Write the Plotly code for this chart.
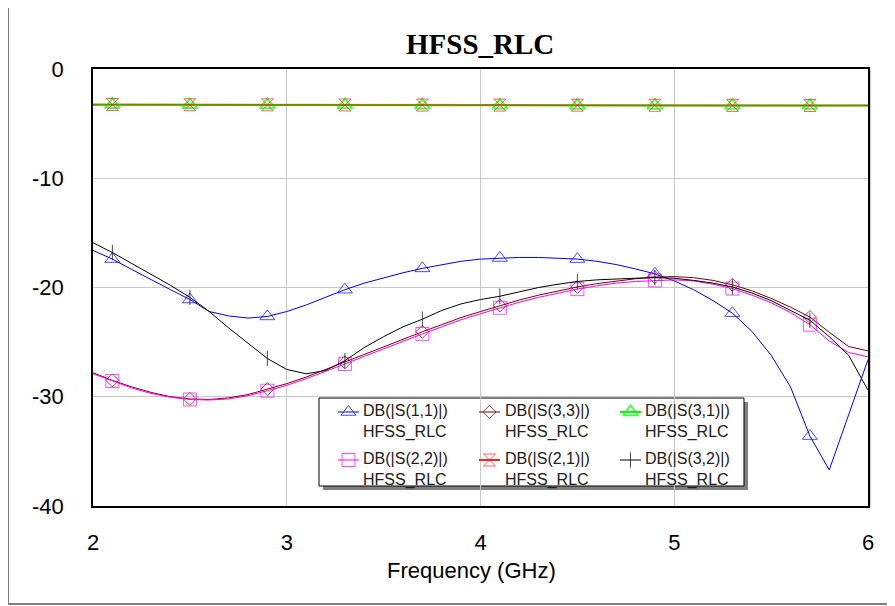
import plotly.graph_objects as go

FREQ = [2.0, 2.1, 2.2, 2.3, 2.4, 2.5, 2.6, 2.7, 2.8, 2.9,
        3.0, 3.1, 3.2, 3.3, 3.4, 3.5, 3.6, 3.7, 3.8, 3.9,
        4.0, 4.1, 4.2, 4.3, 4.4, 4.5, 4.6, 4.7, 4.8, 4.9,
        5.0, 5.1, 5.2, 5.3, 5.4, 5.5, 5.6, 5.7, 5.8, 5.9, 6.0]

S11 = [-16.6, -17.4, -18.35, -19.3, -20.2, -21.1, -22.2, -22.6, -22.8, -22.65,
       -22.2, -21.6, -20.9, -20.2, -19.6, -19.1, -18.65, -18.25, -17.9, -17.6,
       -17.4, -17.3, -17.25, -17.25, -17.3, -17.4, -17.6, -17.9, -18.3, -18.75,
       -19.4, -20.2, -21.2, -22.35, -24.0, -26.2, -29.1, -33.6, -36.7, -31.6, -26.6]

S33 = [-27.8, -28.5, -29.1, -29.6, -30.0, -30.2, -30.25, -30.1, -29.8, -29.3,
       -28.8, -28.2, -27.5, -26.85, -26.1, -25.4, -24.7, -24.05, -23.4, -22.75,
       -22.2, -21.65, -21.15, -20.7, -20.3, -19.95, -19.65, -19.4, -19.2, -19.05,
       -19.0, -19.1, -19.35, -19.75, -20.3, -21.0, -21.8, -22.7, -24.1, -25.4, -25.8]

S31 = [-3.27, -3.27, -3.28, -3.28, -3.28, -3.28, -3.29, -3.29, -3.29, -3.29,
       -3.30, -3.30, -3.30, -3.30, -3.30, -3.31, -3.31, -3.31, -3.31, -3.31,
       -3.32, -3.32, -3.32, -3.32, -3.32, -3.33, -3.33, -3.33, -3.33, -3.33,
       -3.33, -3.34, -3.34, -3.34, -3.34, -3.34, -3.35, -3.35, -3.35, -3.35, -3.35]

S22 = [-27.9, -28.55, -29.2, -29.7, -30.05, -30.25, -30.3, -30.2, -29.9, -29.45,
       -28.95, -28.35, -27.7, -27.0, -26.3, -25.6, -24.9, -24.25, -23.6, -22.95,
       -22.4, -21.85, -21.35, -20.9, -20.5, -20.15, -19.85, -19.6, -19.45, -19.35,
       -19.3, -19.4, -19.7, -20.1, -20.7, -21.4, -22.3, -23.4, -24.9, -25.95, -26.35]

S21 = [-3.25, -3.25, -3.26, -3.26, -3.26, -3.27, -3.27, -3.27, -3.27, -3.28,
       -3.28, -3.28, -3.28, -3.29, -3.29, -3.29, -3.29, -3.30, -3.30, -3.30,
       -3.30, -3.30, -3.31, -3.31, -3.31, -3.31, -3.31, -3.32, -3.32, -3.32,
       -3.32, -3.32, -3.33, -3.33, -3.33, -3.33, -3.33, -3.34, -3.34, -3.34, -3.34]

S32 = [-15.9, -16.8, -17.8, -18.8, -19.8, -20.9, -22.2, -23.7, -25.1, -26.5,
       -27.5, -27.9, -27.6, -26.7, -25.5, -24.5, -23.6, -22.9, -22.1, -21.5,
       -21.1, -20.8, -20.4, -20.0, -19.7, -19.45, -19.3, -19.2, -19.15, -19.1,
       -19.15, -19.35, -19.6, -19.95, -20.5, -21.2, -22.1, -23.0, -24.5, -26.2, -29.4]

SERIES_NAMES = ["DB(|S(1,1)|)", "DB(|S(3,3)|)", "DB(|S(3,1)|)",
                "DB(|S(2,2)|)", "DB(|S(2,1)|)", "DB(|S(3,2)|)"]
SOURCE = "HFSS_RLC"
TITLE = "HFSS_RLC"
X_TITLE = "Frequency (GHz)"
X_TICKS = [2, 3, 4, 5, 6]
X_TICK_LABELS = ["2", "3", "4", "5", "6"]
Y_TICKS = [0, -10, -20, -30, -40]
Y_TICK_LABELS = ["0", "-10", "-20", "-30", "-40"]

X_RANGE = [2, 6]
Y_RANGE = [-40, 0]

# ---- geometry ----
# positions below are page pixels; the figure sits 8px in from the page corner
OFF = 8
W, H = 895, 606
PLOT_L, PLOT_R, PLOT_T, PLOT_B = 93, 868, 69, 506  # page pixels
ML = PLOT_L - OFF
MT = PLOT_T - OFF
PW = PLOT_R - PLOT_L
PH = PLOT_B - PLOT_T
MR = W - ML - PW
MB = H - MT - PH


def px_x(p):
    return (p - PLOT_L) / PW


def px_y(p):
    return (PLOT_B - p) / PH


def dx(p):  # page pixel -> data x
    return X_RANGE[0] + (p - PLOT_L) / PW * (X_RANGE[1] - X_RANGE[0])


def dy(p):  # page pixel -> data y
    return Y_RANGE[1] - (p - PLOT_T) / PH * (Y_RANGE[1] - Y_RANGE[0])


def marker_sizes(size):
    # markers on every 4th sample starting at 2.1 GHz
    return [size if (i % 4 == 1 and i <= 37) else 0 for i in range(len(FREQ))]


styles = [
    (S11, "#0000ff", "#0000ff", 1, "triangle-up-open", 13, 1),
    (S33, "#800000", "#800000", 1, "diamond-open", 10, 1),
    (S31, "#00ff00", "#00ff00", 2, "triangle-up-open", 13, 2),
    (S22, "#ff00ff", "#ff00ff", 1, "square-open", 13, 1),
    (S21, "rgba(255,0,0,0.5)", "#ff2020", 2, "hourglass-open", 12, 1),
    (S32, "#000000", "#000000", 1, "line-ns-open", 11, 1),
]

fig = go.Figure()
for name, (vals, lcol, mcol, lw, sym, ms, mlw) in zip(SERIES_NAMES, styles):
    fig.add_trace(go.Scatter(
        x=FREQ, y=vals, mode="lines+markers", name=name, showlegend=False,
        line=dict(color=lcol, width=lw),
        marker=dict(symbol=sym, color=mcol, size=marker_sizes(ms),
                    line=dict(width=mlw, color=mcol)),
    ))

# ---- custom legend (3 columns x 2 rows) ----
LEG_L, LEG_R, LEG_T, LEG_B = 319, 744, 398, 486
COL_SYM_X = [338, 479, 620]
COL_TXT_X = [361, 503, 643]
ROW_SYM_Y = [412, 460]
ROW_TXT_Y = [421, 469]
LEG_FONT = dict(family="Liberation Sans, Arial, sans-serif", size=16, color="#202020")

annotations = []
for k, (name, (vals, lcol, mcol, lw, sym, ms, mlw)) in enumerate(zip(SERIES_NAMES, styles)):
    r, c = divmod(k, 3)
    sx0, sx1 = COL_SYM_X[c], COL_SYM_X[c] + 21
    sy = ROW_SYM_Y[r]
    fig.add_trace(go.Scatter(
        x=[dx(sx0), dx((sx0 + sx1) / 2), dx(sx1)], y=[dy(sy)] * 3,
        mode="lines+markers", showlegend=False, hoverinfo="skip",
        line=dict(color=mcol, width=lw),
        marker=dict(symbol=sym, color=mcol, size=[0, ms, 0],
                    line=dict(width=mlw, color=mcol)),
    ))
    annotations.append(dict(text=name + "<br>" + SOURCE,
                            x=px_x(COL_TXT_X[c]), y=px_y(ROW_TXT_Y[r]),
                            xref="paper", yref="paper", xanchor="left", yanchor="middle",
                            align="left", showarrow=False, font=LEG_FONT))

annotations.append(dict(text="<b>" + TITLE + "</b>", x=px_x(480), y=px_y(44),
                        xref="paper", yref="paper", xanchor="center", yanchor="middle",
                        showarrow=False,
                        font=dict(family="Liberation Serif, Times New Roman, serif",
                                  size=29, color="black")))
annotations.append(dict(text=X_TITLE, x=px_x(471), y=px_y(570),
                        xref="paper", yref="paper", xanchor="center", yanchor="middle",
                        showarrow=False,
                        font=dict(family="Liberation Sans, Arial, sans-serif",
                                  size=22, color="black")))

shapes = [
    # outer frame
    dict(type="rect", xref="paper", yref="paper",
         x0=px_x(8), x1=px_x(905), y0=px_y(604), y1=px_y(7),
         line=dict(color="#808080", width=2), layer="below"),
    # plot right shadow
    dict(type="line", xref="paper", yref="paper",
         x0=px_x(870), x1=px_x(870), y0=px_y(507), y1=px_y(71),
         line=dict(color="#c8c8c8", width=2), layer="below"),
    # legend shadow
    dict(type="rect", xref="paper", yref="paper",
         x0=px_x(LEG_L + 4), x1=px_x(LEG_R + 4), y0=px_y(LEG_B + 4), y1=px_y(LEG_T + 4),
         fillcolor="#808080", line=dict(width=0), layer="between"),
    # legend box
    dict(type="rect", xref="paper", yref="paper",
         x0=px_x(LEG_L), x1=px_x(LEG_R), y0=px_y(LEG_B), y1=px_y(LEG_T),
         fillcolor="white", line=dict(color="black", width=1), layer="between"),
]

fig.update_layout(
    width=W, height=H,
    margin=dict(l=ML, r=MR, t=MT, b=MB),
    paper_bgcolor="white", plot_bgcolor="white",
    font=dict(family="Liberation Sans, Arial, sans-serif", color="black"),
    showlegend=False,
    annotations=annotations,
    shapes=shapes,
)

fig.update_xaxes(range=X_RANGE, tickvals=X_TICKS, ticktext=X_TICK_LABELS,
                 showgrid=True, gridcolor="#c8c8c8", gridwidth=1,
                 showline=True, linecolor="black", linewidth=1.5, mirror=True,
                 ticks="", ticklabelstandoff=16, zeroline=False,
                 tickfont=dict(size=22), automargin=False)
fig.update_yaxes(range=Y_RANGE, tickvals=Y_TICKS, ticktext=Y_TICK_LABELS,
                 showgrid=True, gridcolor="#c8c8c8", gridwidth=1,
                 showline=True, linecolor="black", linewidth=1.5, mirror=True,
                 ticks="", ticklabelstandoff=23, zeroline=False,
                 tickfont=dict(size=22), automargin=False)

fig.write_html("out.html")
